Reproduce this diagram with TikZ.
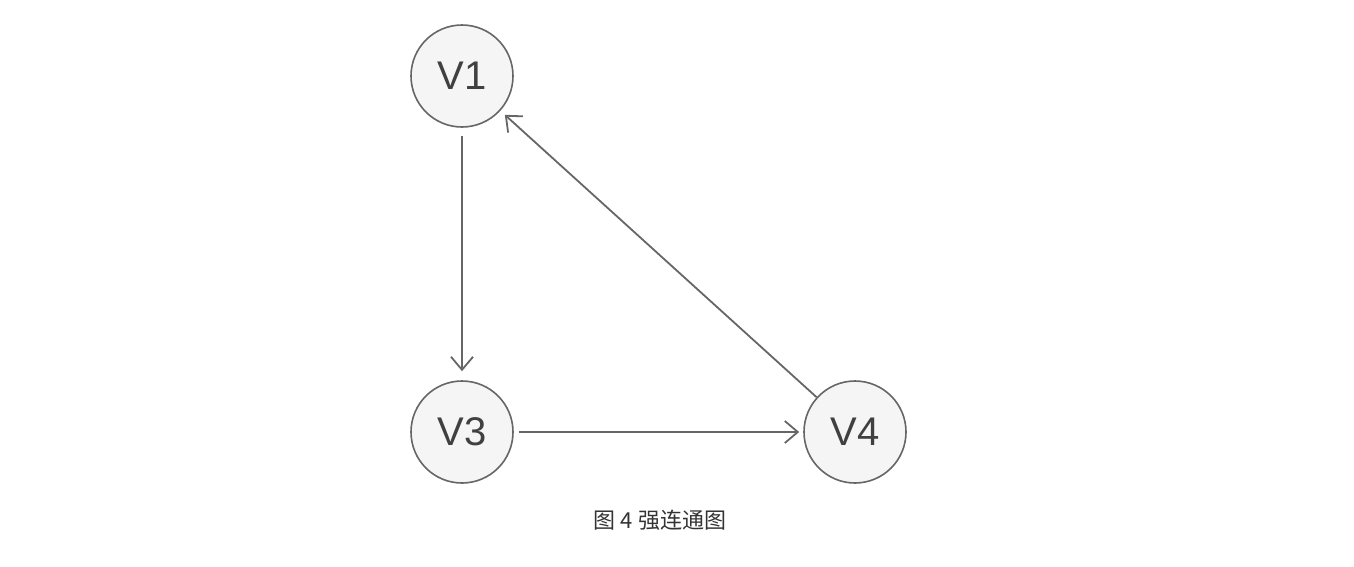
\documentclass[tikz,border=0pt]{standalone}
\usepackage{fontspec}
\setmainfont{Liberation Sans}
\newfontfamily\cjk{Noto Sans CJK SC}
\usetikzlibrary{arrows.meta}
\definecolor{edge}{HTML}{666666}
\definecolor{fillc}{HTML}{F5F5F5}
\begin{document}
\begin{tikzpicture}[x=1pt,y=-1pt,
  vert/.style={circle,draw=edge,fill=fillc,line width=1.6pt,minimum size=102pt,inner sep=0pt,font=\fontsize{40}{40}\selectfont,text=black!75},
  conn/.style={draw=edge,line width=1.8pt,-{Straight Barb[length=13pt,width=22pt,line width=1.8pt]}}]
\useasboundingbox (0,0) rectangle (1354,566);
\node[vert] (v1) at (462,76) {V1};
\node[vert] (v3) at (462,432) {V3};
\node[vert] (v4) at (855,432) {V4};
\node[font=\cjk\fontsize{22}{22}\selectfont,text=black!80] (cap) at (660,520) {图 4 强连通图};
\draw[conn,shorten <=8pt,shorten >=9pt] (v1) -- (v3);
\draw[conn,shorten <=5pt,shorten >=4pt] (v3) -- (v4);
\draw[conn,shorten <=0pt,shorten >=6pt] (v4) -- (v1);
\end{tikzpicture}
\end{document}
